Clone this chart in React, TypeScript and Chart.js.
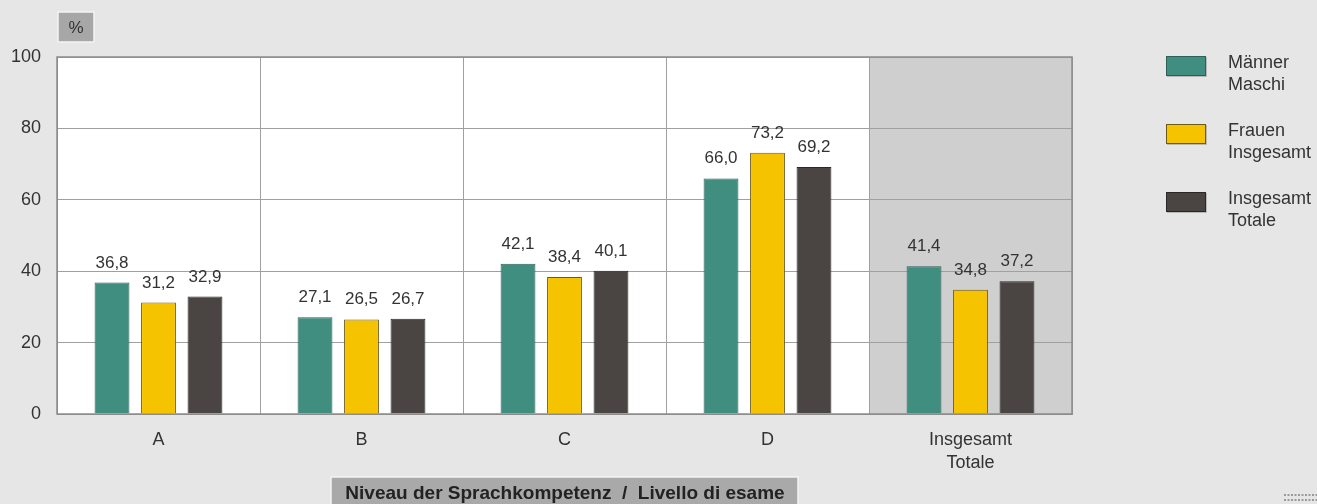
import React, { useEffect, useRef } from "react";
import { Chart, registerables } from "chart.js";

Chart.register(...registerables);

const categories: (string | string[])[] = ["A", "B", "C", "D", ["Insgesamt", "Totale"]];
const maenner = [36.8, 27.1, 42.1, 66.0, 41.4];
const frauen = [31.2, 26.5, 38.4, 73.2, 34.8];
const insgesamt = [32.9, 26.7, 40.1, 69.2, 37.2];
const legendLabels = [["Männer", "Maschi"], ["Frauen", "Insgesamt"], ["Insgesamt", "Totale"]];
const yTicks = [0, 20, 40, 60, 80, 100];
const unitLabel = "%";
const axisTitle = "Niveau der Sprachkompetenz  /  Livello di esame";

const FONT = "'Liberation Sans', Arial, sans-serif";
const colors = ["#3f8e80", "#f6c300", "#4a4543"];
const borders = ["#2f5f57", "#6b5a1a", "#2b2828"];

export default function App() {
  const ref = useRef<HTMLCanvasElement | null>(null);
  useEffect(() => {
    document.body.style.margin = "0";
    const canvas = ref.current!;
    const bgPlugin = {
      id: "bg",
      beforeDraw(chart: any) {
        const { ctx, chartArea: a, scales } = chart;
        ctx.save();
        ctx.fillStyle = "#e6e6e6";
        ctx.fillRect(0, 0, chart.width, chart.height);
        ctx.fillStyle = "#ffffff";
        ctx.fillRect(a.left, a.top, a.right - a.left, a.bottom - a.top);
        const x = scales.x;
        const n = categories.length;
        const w = (a.right - a.left) / n;
        const cx = x.getPixelForValue(n - 1);
        ctx.fillStyle = "#cfcfcf";
        ctx.fillRect(cx - w / 2, a.top, w, a.bottom - a.top);
        // % box
        ctx.fillStyle = "#a7a7a7";
        ctx.strokeStyle = "#f4f4f4";
        ctx.lineWidth = 1.5;
        ctx.fillRect(58, 12, 36, 30);
        ctx.strokeRect(58, 12, 36, 30);
        ctx.fillStyle = "#333";
        ctx.font = `17px ${FONT}`;
        ctx.textAlign = "center";
        ctx.textBaseline = "middle";
        ctx.fillText(unitLabel, 76, 28);
        // axis title box
        ctx.fillStyle = "#a9a9a9";
        ctx.fillRect(331, 477, 467, 30);
        ctx.strokeRect(331, 477, 467, 30);
        ctx.fillStyle = "#222";
        ctx.font = `bold 19px ${FONT}`;
        ctx.fillText(axisTitle, 565, 494);
        // legend
        ctx.textAlign = "left";
        ctx.font = `18px ${FONT}`;
        for (let i = 0; i < 3; i++) {
          const y = 56 + i * 68;
          ctx.fillStyle = "rgba(0,0,0,0.2)";
          ctx.fillRect(1167, y + 1, 40, 20);
          ctx.fillStyle = colors[i];
          ctx.fillRect(1166, y, 40, 20);
          ctx.strokeStyle = borders[i];
          ctx.lineWidth = 1;
          ctx.strokeRect(1166.5, y + 0.5, 39, 19);
          ctx.fillStyle = "#333";
          ctx.fillText(legendLabels[i][0], 1228, y + 7);
          ctx.fillText(legendLabels[i][1], 1228, y + 29);
        }
        // dots
        ctx.fillStyle = "#9a9a9a";
        for (let r = 0; r < 2; r++) {
          for (let c = 0; c < 10; c++) {
            ctx.fillRect(1284 + c * 3.5, 494 + r * 5, 2, 2);
          }
        }
        ctx.restore();
      },
      afterDatasetsDraw(chart: any) {
        const { ctx, chartArea: a } = chart;
        ctx.save();
        ctx.strokeStyle = "#8c8c8c";
        ctx.lineWidth = 1.5;
        ctx.strokeRect(a.left, a.top, a.right - a.left, a.bottom - a.top);
        ctx.fillStyle = "#333";
        ctx.font = `17px ${FONT}`;
        ctx.textAlign = "center";
        ctx.textBaseline = "alphabetic";
        chart.data.datasets.forEach((ds: any, i: number) => {
          const meta = chart.getDatasetMeta(i);
          meta.data.forEach((bar: any, j: number) => {
            const v = ds.data[j];
            ctx.fillText(v.toFixed(1).replace(".", ","), bar.x, bar.y - 15);
          });
        });
        ctx.restore();
      },
    };
    const chart = new Chart(canvas, {
      type: "bar",
      data: {
        labels: categories,
        datasets: [maenner, frauen, insgesamt].map((d, i) => ({
          label: legendLabels[i].join(" "),
          data: d,
          backgroundColor: colors[i],
          borderColor: borders[i],
          borderWidth: 1,
          barPercentage: 0.75,
          categoryPercentage: 0.687,
        })),
      },
      options: {
        animation: false,
        responsive: false,
        devicePixelRatio: 1,
        layout: { padding: { left: 0, top: 57, right: 245, bottom: 0 } },
        plugins: { legend: { display: false }, tooltip: { enabled: false } },
        scales: {
          x: {
            grid: { color: "#a0a0a0", lineWidth: 1, drawTicks: false, offset: true },
            border: { color: "#8c8c8c" },
            ticks: { color: "#333", font: { family: FONT, size: 18, lineHeight: 1.25 }, padding: 15 },
            afterFit(scale: any) {
              scale.height = 90;
            },
          },
          y: {
            min: 0,
            max: 100,
            afterBuildTicks(scale: any) {
              scale.ticks = yTicks.map((v) => ({ value: v }));
            },
            grid: { color: "#a0a0a0", lineWidth: 1, drawTicks: false },
            border: { color: "#8c8c8c" },
            ticks: { color: "#333", font: { family: FONT, size: 18 }, padding: 16 },
            afterFit(scale: any) {
              scale.width = 57;
            },
          },
        },
      },
      plugins: [bgPlugin],
    } as any);
    return () => chart.destroy();
  }, []);
  return (
    <div style={{ width: 1317, height: 504 }}>
      <canvas ref={ref} width={1317} height={504} style={{ display: "block" }} />
    </div>
  );
}
